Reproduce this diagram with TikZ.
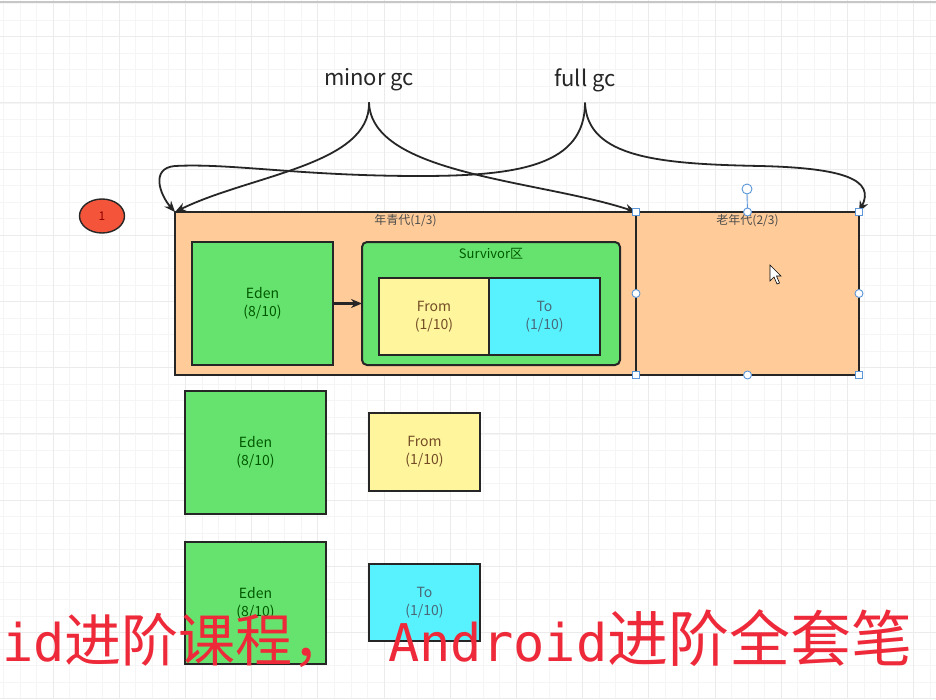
\documentclass[tikz,border=0pt]{standalone}
\usepackage{fontspec}
\setmainfont{Noto Sans CJK SC}
\newfontfamily\subcjk{Noto Sans CJK SC}
\newfontfamily\submono{DejaVu Sans Mono}
\usetikzlibrary{arrows.meta,shapes.geometric}
\definecolor{peach}{HTML}{FFCC99}
\definecolor{edengreen}{HTML}{66E36E}
\definecolor{fromyellow}{HTML}{FFF59D}
\definecolor{tocyan}{HTML}{58F2FF}
\definecolor{markred}{HTML}{F4553A}
\definecolor{handleblue}{HTML}{5A96D8}
\definecolor{subred}{HTML}{EE2A3A}
\tikzset{
  box/.style={draw=black!85, line width=2pt, outer sep=0pt, inner sep=0pt, align=center, font=\fontsize{14}{18}\selectfont},
  genbox/.style={box, fill=peach, text=black!70},
  edenbox/.style={box, fill=edengreen, text=green!35!black, minimum width=141pt, minimum height=123pt},
  frombox/.style={box, fill=fromyellow, text=brown!60!black, minimum width=110pt, minimum height=77pt},
  tobox/.style={box, fill=tocyan, text=cyan!40!black, minimum width=111pt, minimum height=77pt},
  gclabel/.style={font=\fontsize{22}{24}\selectfont, text=black!85, inner sep=0pt, outer ysep=11pt},
  gcarrow/.style={draw=black!85, line width=1.8pt, -{Stealth[length=11pt,width=9pt]}},
  handle/.style={draw=handleblue, fill=white, line width=0.9pt, inner sep=0pt, minimum size=7.5pt},
  gridminor/.style={draw=black!4, line width=0.8pt},
  gridmajor/.style={draw=black!8, line width=1pt}
}
\begin{document}
\begin{tikzpicture}[x=1pt,y=-1pt]
\useasboundingbox[fill=white] (0,0) rectangle (936,699);
% background grid
\foreach \k in {0,...,56} \draw[gridminor] ({3.35+16.55*\k},0) -- ({3.35+16.55*\k},699);
\foreach \k in {0,...,42} \draw[gridminor] (0,{3.6+16.55*\k}) -- (936,{3.6+16.55*\k});
\foreach \k in {0,...,13} \draw[gridmajor] ({53+66.2*\k},0) -- ({53+66.2*\k},699);
\foreach \k in {0,...,10} \draw[gridmajor] (0,{36.7+66.2*\k}) -- (936,{36.7+66.2*\k});
\draw[draw=black!22, line width=1.5pt] (0,2) -- (936,2);

% marker
\node[box, shape=ellipse, fill=markred, text=red!55!black, minimum width=45pt, minimum height=34pt, line width=1.4pt, font=\fontsize{12}{14}\selectfont] (mark) at (102,216) {1};

% generations
\node[genbox, minimum width=461pt, minimum height=163pt,
  label={[anchor=north, inner sep=2pt, text=black!70, font=\fontsize{12}{14}\selectfont]north:年青代(1/3)}] (young) at (405.5,293.5) {};
\node[genbox, minimum width=223pt, minimum height=163pt,
  label={[anchor=north, inner sep=2pt, text=black!70, font=\fontsize{12}{14}\selectfont]north:老年代(2/3)}] (old) at (747.5,293.5) {};

% young generation parts
\node[edenbox] (eden) at (262.5,303.5) {Eden\\(8/10)};
\node[box, fill=edengreen, rounded corners=5pt, minimum width=258pt, minimum height=123pt,
  label={[anchor=north, inner sep=6pt, text=green!35!black, font=\fontsize{13}{15}\selectfont]north:Survivor区}] (surv) at (491,303.5) {};
\node[frombox] (from) at (434,316.5) {From\\(1/10)};
\node[tobox] (to) at (544.5,316.5) {To\\(1/10)};
\draw[draw=black!85, line width=2.2pt, -{Stealth[length=11pt,width=9pt]}] (eden) -- (surv);

% single regions
\node[edenbox] (edenb) at (255.5,452.5) {Eden\\(8/10)};
\node[frombox, minimum width=111pt, minimum height=78pt] (fromb) at (424.5,452) {From\\(1/10)};
\node[edenbox, minimum height=122pt] (edenc) at (255.5,603) {Eden\\(8/10)};
\node[tobox] (tob) at (424.5,602.5) {To\\(1/10)};

% gc labels and arrows
\node[gclabel] (minor) at (369,80) {minor gc};
\node[gclabel] (full) at (585,80) {full gc};
\draw[gcarrow] (minor.south) .. controls (371,165) and (250,175) .. (young.north west);
\draw[gcarrow] (minor.south) .. controls (371,175) and (540,180) .. (young.north east);
\draw[gcarrow] (full.south) .. controls (585,165) and (520,176) .. (420,176)
  .. controls (300,176) and (230,163) .. (175,166)
  .. controls (150,168) and (160,195) .. (young.north west);
\draw[gcarrow] (full.south) .. controls (587,158) and (660,164) .. (760,166)
  .. controls (845,168) and (875,180) .. (old.north east);

% selection handles
\draw[handleblue, line width=0.9pt] (old.north) -- (747,194);
\node[handle, circle, minimum size=10pt] (rot) at (747,189) {};
\foreach \a in {north west,north east,south west,south east}
  \node[handle] at (old.\a) {};
\foreach \a in {north,south,east,west}
  \node[handle, circle, minimum size=8pt] at (old.\a) {};
\draw[fill=white, draw=black, line width=0.6pt] (770,265) -- (770,281) -- (774,277) -- (777,284) -- (779.5,283) -- (776.5,276) -- (781,276) -- cycle;

% subtitle
\node[anchor=base west, inner sep=0pt, text=subred] (subA) at (2,661)
  {\submono\fontsize{52}{52}\selectfont id\subcjk\fontsize{57}{57}\selectfont 进阶课程，};
\node[anchor=base west, inner sep=0pt, text=subred] (subB) at (388,661)
  {\submono\fontsize{52}{52}\selectfont Android\subcjk\fontsize{61}{61}\selectfont 进阶全套笔};
\end{tikzpicture}
\end{document}
